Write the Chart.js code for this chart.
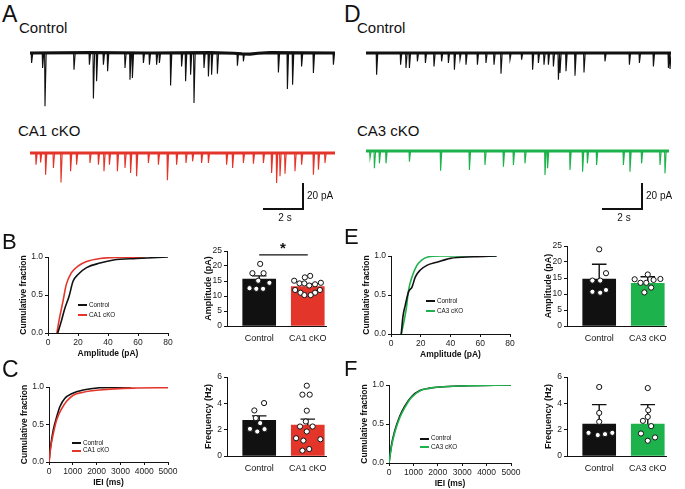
<!DOCTYPE html>
<html>
<head>
<meta charset="utf-8">
<script src="https://cdn.jsdelivr.net/npm/chart.js@4.4.0/dist/chart.umd.min.js"></script>
<style>
  body { margin: 0; background: #fff; }
  #fig { position: relative; width: 685px; height: 489px; overflow: hidden;
         font-family: "Liberation Sans", Arial, sans-serif; color: #111; }
  #fig canvas { position: absolute; }
  .t { position: absolute; white-space: nowrap; line-height: 1; }
  .ln { position: absolute; }
</style>
</head>
<body>
<div id="fig"></div>
<script>
const aCtrlEvT = [0.08,0.63,0.75,2.2,2.97,3.17,3.33,3.67,3.88,4.75,5.0,5.12,5.67,5.97,6.33,6.47,7.03,7.58,7.78,8.03,8.2,8.7,8.92,9.08,9.37,10.37,10.67,12.42,12.87,13.13,13.58,14.17,15.17];
const aCtrlEvA = [7.7,11.5,41,12.8,9,35,21.8,9,14,11.5,20.5,19.2,7.7,9,9,7.7,25,10.3,21.8,16.7,38.5,11.5,18,16.7,16,9.7,6.4,14.9,27.7,24.4,10.3,15.4,9];
const aCtrlBaseT = [0, 3, 6, 9, 10.2, 10.6, 11.0, 11.4, 12, 15.25];
const aCtrlBaseV = [0, 0.3, 0, 0.3, -0.2, -0.7, -0.8, -0.2, 0.3, 0];

const ca1EvT = [0.3,0.53,0.78,1.17,1.55,2.03,2.33,3.0,3.42,3.7,3.97,4.37,4.75,5.03,5.33,5.92,6.42,6.87,7.33,7.8,8.13,8.58,8.92,9.83,10.13,10.67,11.17,11.67,12.08,12.33,12.5,12.75,13.25,13.58,14.17,14.42,14.75];
const ca1EvA = [9,7.2,16.7,11.5,22.6,14.1,9,7.7,9,14.1,9,14.1,11.5,15.4,17.9,7.7,9,21,9,7.7,6.4,7.7,7.7,9,11.5,7.7,8.2,7.7,15.4,23.1,17.9,15.9,14.1,9,16.7,12.8,7.7];

const dCtrlEvT = [0.53,1.73,2.0,2.17,2.57,2.97,3.4,3.78,4.12,4.42,4.7,5.0,5.57,6.0,6.4,6.75,7.2,7.78,8.33,8.62,8.9,9.12,9.37,9.62,9.7,10.0,10.45,10.9,11.95,13.17,13.67,14.37,15.12,15.2];
const dCtrlEvA = [16.7,9,11.5,11.5,6.4,7.7,10.3,6.4,7.7,12.8,5.1,9,9,7.7,9,15.9,5.1,5.1,12.8,7.7,9,9,10.3,20.5,15.4,14.1,17.4,14.9,6.4,9,7.7,10.3,11.5,12.3];

const ca3EvT = [0.2,0.42,0.67,1.0,2.17,3.73,5.17,5.95,6.87,7.37,7.95,8.95,9.08,10.2,10.83,11.07,11.53,12.87,13.2,13.78,14.7,14.95];
const ca3EvA = [5.6,13.3,9.5,9.5,8.2,15.1,14.6,10.8,12.1,10.8,9.5,18.5,13.3,14.6,15.9,9.5,10.8,10.8,15.9,9.5,10.8,17.2];

// ---------- cumulative distributions ----------
const bAmpCtrl  = [6.5, 8.8, 11, 14, 16.7, 20, 25.7, 34.7, 43.7, 59, 80];
const bFracCtrl = [0, 0.15, 0.31, 0.48, 0.68, 0.77, 0.86, 0.92, 0.96, 0.98, 1.0];
const bAmpKO    = [5.9, 7.7, 10, 12.2, 15.5, 20, 25.7, 34.7, 48, 65];
const bFracKO   = [0, 0.2, 0.42, 0.64, 0.79, 0.88, 0.94, 0.98, 0.995, 1.0];

const cIeiCtrl  = [0, 70, 182, 321, 461, 670, 950, 1439, 2137, 3464];
const cFracCtrl = [0, 0.21, 0.43, 0.6, 0.74, 0.85, 0.91, 0.96, 0.99, 1.0];
const cIeiKO    = [0, 70, 182, 321, 531, 740, 1020, 1439, 2137, 3534, 5000];
const cFracKO   = [0, 0.19, 0.38, 0.56, 0.71, 0.81, 0.89, 0.93, 0.96, 0.985, 0.99];

const eAmpCtrl  = [6.9, 8, 9.6, 11.8, 14.1, 16.3, 19.7, 24.1, 30.8, 39.8, 55.4, 71];
const eFracCtrl = [0, 0.22, 0.37, 0.54, 0.6, 0.73, 0.82, 0.88, 0.92, 0.97, 0.99, 1.0];
const eAmpKO    = [6.9, 8.5, 10.3, 11.8, 14.1, 17.4, 20.8, 25.3, 33, 71];
const eFracKO   = [0, 0.14, 0.33, 0.56, 0.73, 0.88, 0.95, 0.99, 1.0, 1.0];

const fIei      = [0, 96, 234, 440, 646, 920, 1264, 1676, 2088, 3000, 5000];
const fFracCtrl = [0, 0.22, 0.41, 0.6, 0.73, 0.85, 0.93, 0.96, 0.975, 0.988, 1.0];
const fFracKO   = [0, 0.2, 0.39, 0.58, 0.71, 0.84, 0.925, 0.96, 0.975, 0.988, 1.0];

// ---------- bar graphs: mean, error, individual cells (value + horizontal scatter) ----------
const bMean = [15.6, 13.1], bErr = [1.1, 0.8];
const bCtrlPts = [20.7, 17.6, 17.6, 15.1, 14.4, 12.6, 12.4, 12.4];
const bCtrlJit = [0.02, -0.14, 0.09, -0.02, 0.21, -0.2, -0.06, 0.08];
const bKOPts = [16.7, 16.2, 15.1, 14.4, 14.2, 14.2, 13.9, 13.5, 12.0, 12.0, 11.1, 11.1, 10.3, 10.3];
const bKOJit = [0.05, -0.06, -0.28, 0.27, -0.17, -0.07, 0.15, 0.03, -0.26, 0.25, -0.15, 0.15, -0.07, 0.06];

const cMean = [2.7, 2.34], cErr = [0.35, 0.46];
const cCtrlPts = [4.02, 3.46, 2.88, 2.5, 2.06, 1.86, 2.04];
const cCtrlJit = [0.1, -0.1, -0.07, 0.02, -0.19, -0.04, 0.11];
const cKOPts = [5.34, 4.66, 4.66, 3.44, 2.62, 2.24, 2.24, 1.86, 1.35, 1.27, 1.17, 0.53, 0.41];
const cKOJit = [-0.02, -0.11, 0.04, -0.02, -0.04, -0.16, 0.1, -0.02, -0.24, 0.26, -0.09, 0.03, -0.11];

const eMean = [14.7, 13.3], eErr = [4.6, 2.1];
const eCtrlPts = [23.96, 16.5, 14.2, 14.2, 11.25, 10.7, 10.4];
const eCtrlJit = [0, 0.14, -0.14, 0.02, 0.14, -0.14, 0.02];
const eKOPts = [16.1, 14.6, 14.7, 13.5, 13.5, 14.4, 12.0, 10.5];
const eKOJit = [0, -0.27, 0.26, -0.15, -0.03, 0.12, 0.07, -0.07];

const fMean = [2.42, 2.42], fErr = [1.48, 1.48];
const fCtrlPts = [5.24, 3.27, 2.6, 1.76, 1.59, 1.66, 1.76];
const fCtrlJit = [0, 0, 0, -0.22, -0.03, 0.12, 0.27];
const fKOPts = [5.16, 3.48, 2.97, 2.67, 2.27, 1.71, 1.41, 1.16];
const fKOJit = [0, 0.01, 0, -0.1, 0.07, -0.14, 0.15, 0];

const RED = '#e4352b', GREEN = '#1db24b', INK = '#111';
const PX_PER_S = 20, PX_PER_PA = 1.3;   // trace scale bars: 2 s = 40 px, 20 pA = 26 px

Chart.defaults.font.family = '"Liberation Sans", Arial, sans-serif';
Chart.defaults.color = '#222';
Chart.defaults.animation = false;
Chart.defaults.responsive = false;
Chart.defaults.devicePixelRatio = 1;
Chart.defaults.plugins.legend.display = false;
Chart.defaults.plugins.tooltip.enabled = false;

const fig = document.getElementById('fig');

function addCanvas(left, top, w, h) {
  const c = document.createElement('canvas');
  c.width = w; c.height = h;
  c.style.left = left + 'px'; c.style.top = top + 'px';
  fig.appendChild(c);
  return c;
}
function txt(s, x, base, size, opts) {
  opts = opts || {};
  const d = document.createElement('div');
  d.className = 't';
  d.textContent = s;
  d.style.fontSize = size + 'px';
  d.style.top = (base - 0.8465 * size) + 'px';
  d.style.left = x + 'px';
  if (opts.center) d.style.transform = 'translateX(-50%)';
  if (opts.bold) d.style.fontWeight = 'bold';
  fig.appendChild(d);
}
function rect(x, y, w, h, color) {
  const d = document.createElement('div');
  d.className = 'ln';
  d.style.left = x + 'px'; d.style.top = y + 'px';
  d.style.width = w + 'px'; d.style.height = h + 'px';
  d.style.background = color || INK;
  fig.appendChild(d);
}
const xy = (xs, ys) => xs.map((x, i) => ({x: x, y: ys[i]}));

// ---------- sample traces ----------
function trace(left, baseY, tEnd, evT, evA, baseT, baseV, color) {
  const H = 62, above = 6;
  const c = addCanvas(left, baseY - above, Math.round(tEnd * PX_PER_S), H);
  const ev = [];
  evT.forEach((t, i) => {
    ev.push({x: t - 0.02, y: 0}, {x: t, y: -evA[i]}, {x: t + 0.06, y: 0}, {x: t + 0.061, y: null});
  });
  new Chart(c, {
    type: 'line',
    data: { datasets: [
      { data: ev, borderColor: color, borderWidth: 1.1, pointRadius: 0, spanGaps: false },
      { data: xy(baseT, baseV), borderColor: color, borderWidth: 3.2, pointRadius: 0 }
    ]},
    options: {
      layout: { padding: 0 },
      scales: {
        x: { type: 'linear', display: false, min: 0, max: tEnd },
        y: { display: false, min: (above - H) / PX_PER_PA, max: above / PX_PER_PA }
      }
    }
  });
}
trace(30, 53, 15.25, aCtrlEvT, aCtrlEvA, aCtrlBaseT, aCtrlBaseV, INK);
trace(30, 153, 15.25, ca1EvT, ca1EvA, [0, 15.25], [0, 0], RED);
trace(366, 53, 15.25, dCtrlEvT, dCtrlEvA, [0, 15.25], [0, 0], INK);
trace(366, 151, 15.15, ca3EvT, ca3EvA, [0, 15.15], [0, 0], GREEN);

function scaleBar(xRight, yBottom) {
  const h = 20 * PX_PER_PA, w = 2 * PX_PER_S;
  rect(xRight - 0.6, yBottom - h, 1.3, h);
  rect(xRight - w, yBottom - 0.6, w + 0.7, 1.3);
  txt('20 pA', xRight + 4, yBottom - h / 2 + 3.6, 10);
  txt('2 s', xRight - w / 2 + 2, yBottom + 12, 10, {center: true});
}
scaleBar(303, 209);
scaleBar(642, 209);

// ---------- cumulative plots ----------
function cumChart(L, T, R, B, xMax, xStep, xTitle, ctrl, ko, koColor, koOnTop) {
  const xh = 30;
  const c = addCanvas(L - 48, T - 8, R - L + 60, B - T + 8 + xh);
  const sCtrl = { data: ctrl, borderColor: INK, borderWidth: 1.6, pointRadius: 0, cubicInterpolationMode: 'monotone' };
  const sKO = { data: ko, borderColor: koColor, borderWidth: 1.6, pointRadius: 0, cubicInterpolationMode: 'monotone' };
  new Chart(c, {
    type: 'line',
    data: { datasets: koOnTop ? [sKO, sCtrl] : [sCtrl, sKO] },
    options: {
      layout: { padding: { left: 15, top: 8, right: 12, bottom: 0 } },
      scales: {
        x: {
          type: 'linear', min: 0, max: xMax,
          afterFit: s => { s.height = xh; },
          ticks: { stepSize: xStep, padding: 2, font: { size: 8.5 }, maxRotation: 0, callback: v => String(v) },
          grid: { drawOnChartArea: false, tickLength: 3, color: INK },
          border: { color: INK, width: 1 },
          title: { display: true, text: xTitle, font: { size: 8.5, weight: 'bold' }, color: '#111', padding: { top: 0, bottom: 4 } }
        },
        y: {
          min: 0, max: 1,
          afterFit: s => { s.width = 33; },
          ticks: { stepSize: 0.5, padding: 2, font: { size: 8.5 }, callback: v => v.toFixed(1) },
          grid: { drawOnChartArea: false, tickLength: 3, color: INK },
          border: { color: INK, width: 1 },
          title: { display: true, text: 'Cumulative fraction', font: { size: 8.5, weight: 'bold' }, color: '#111' }
        }
      }
    }
  });
}
cumChart(48, 257, 168, 333, 80, 20, 'Amplitude (pA)', xy(bAmpCtrl, bFracCtrl), xy(bAmpKO, bFracKO), RED, false);
cumChart(49, 387, 168, 462, 5000, 1000, 'IEI (ms)', xy(cIeiCtrl, cFracCtrl), xy(cIeiKO, cFracKO), RED, true);
cumChart(391, 256, 510, 334, 80, 20, 'Amplitude (pA)', xy(eAmpCtrl, eFracCtrl), xy(eAmpKO, eFracKO), GREEN, false);
cumChart(389, 385, 511, 463, 5000, 1000, 'IEI (ms)', xy(fIei, fFracCtrl), xy(fIei, fFracKO), GREEN, true);

function legend(x, y1, y2, koName, koColor) {
  rect(x, y1 - 1, 9, 2, INK);
  rect(x, y2 - 1, 9, 2, koColor);
  txt('Control', x + 11, y1 + 2.2, 6.3);
  txt(koName, x + 11, y2 + 2.2, 6.3);
}
legend(78, 305, 315, 'CA1 cKO', RED);
legend(72, 443, 450.5, 'CA1 cKO', RED);
legend(426, 301, 311, 'CA3 cKO', GREEN);
legend(420, 438.5, 447, 'CA3 cKO', GREEN);

// ---------- bar graphs ----------
function barChart(L, T, R, B, cx0, cx1, yMax, yStep, yTitle, mean, err, ptsCtrl, jitCtrl, ptsKO, jitKO, koColor, koName, sig) {
  const xh = 22;
  const unit = cx1 - cx0;
  const c = addCanvas(L - 40, T - 8, R - L + 48, B - T + 8 + xh);
  const cap = 0.15;
  const errPts = [];
  mean.forEach((m, i) => {
    errPts.push({x: i, y: m}, {x: i, y: m + err[i]}, {x: i, y: null},
                {x: i - cap, y: m + err[i]}, {x: i + cap, y: m + err[i]}, {x: i + cap, y: null});
  });
  const dots = ptsCtrl.map((v, i) => ({x: jitCtrl[i], y: v}))
    .concat(ptsKO.map((v, i) => ({x: 1 + jitKO[i], y: v})));
  const sets = [
    { type: 'bar', data: [{x: 0, y: mean[0]}, {x: 1, y: mean[1]}], backgroundColor: [INK, koColor],
      barThickness: 33, borderWidth: 0, order: 3 },
    { type: 'line', data: errPts, borderColor: INK, borderWidth: 1.4, pointRadius: 0, spanGaps: false, order: 2 },
    { type: 'line', data: dots, showLine: false, pointRadius: 2.6, pointBorderWidth: 1,
      pointBackgroundColor: '#fff', pointBorderColor: INK, order: 1 }
  ];
  if (sig) sets.push({ type: 'line', data: [{x: 0, y: sig}, {x: 1, y: sig}], borderColor: INK, borderWidth: 1.2, pointRadius: 0, order: 2 });
  new Chart(c, {
    type: 'bar',
    data: { datasets: sets },
    options: {
      layout: { padding: { left: 12, top: 8, right: 8, bottom: 0 } },
      scales: {
        x: {
          type: 'linear', offset: false, min: -(cx0 - L) / unit, max: 1 + (R - cx1) / unit,
          afterFit: s => { s.height = xh; },
          afterBuildTicks: s => { s.ticks = [{value: 0}, {value: 1}]; },
          ticks: { padding: 7, font: { size: 9 }, color: '#111', maxRotation: 0, callback: v => (v === 0 ? 'Control' : koName) },
          grid: { display: false, offset: false, drawTicks: false, tickLength: 0 },
          border: { color: INK, width: 1 }
        },
        y: {
          min: 0, max: yMax,
          afterFit: s => { s.width = 28; },
          ticks: { stepSize: yStep, padding: 2, font: { size: 8.5 } },
          grid: { drawOnChartArea: false, tickLength: 3, color: INK },
          border: { color: INK, width: 1 },
          title: { display: true, text: yTitle, font: { size: 9, weight: 'bold' }, color: '#111' }
        }
      }
    }
  });
}
barChart(227, 251, 327, 326, 259.5, 308.5, 25, 5, 'Amplitude (pA)', bMean, bErr, bCtrlPts, bCtrlJit, bKOPts, bKOJit, RED, 'CA1 cKO', 23.7);
barChart(227, 377, 327, 456, 259.5, 308.5, 6, 2, 'Frequency (Hz)', cMean, cErr, cCtrlPts, cCtrlJit, cKOPts, cKOJit, RED, 'CA1 cKO');
barChart(567, 246, 667, 326, 599.5, 648.5, 25, 5, 'Amplitude (pA)', eMean, eErr, eCtrlPts, eCtrlJit, eKOPts, eKOJit, GREEN, 'CA3 cKO');
barChart(567, 377, 667, 456, 599.5, 648.5, 6, 2, 'Frequency (Hz)', fMean, fErr, fCtrlPts, fCtrlJit, fKOPts, fKOJit, GREEN, 'CA3 cKO');
txt('*', 283, 253, 15, {center: true, bold: true});

// ---------- panel letters and trace labels ----------
txt('A', 2, 22, 23);
txt('D', 344, 22, 23);
txt('B', 2, 250, 22);
txt('C', 2, 377, 23);
txt('E', 344, 245, 22);
txt('F', 344, 377, 22);
txt('Control', 19, 33, 15);
txt('CA1 cKO', 18, 135.5, 15);
txt('Control', 357, 33, 15);
txt('CA3 cKO', 357, 135.5, 15);
</script>
</body>
</html>
